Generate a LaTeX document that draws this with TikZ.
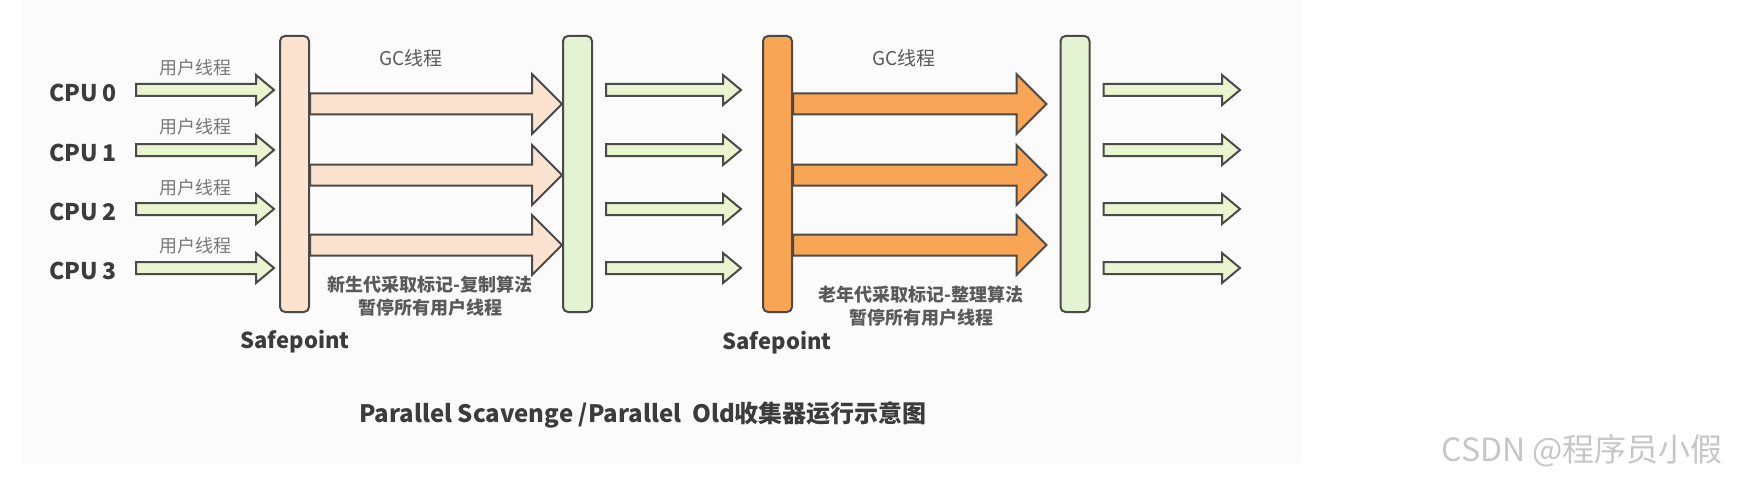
\documentclass[tikz,border=0pt]{standalone}
\usepackage{fontspec}
\setmainfont{Noto Sans CJK SC}
\usetikzlibrary{calc}
\definecolor{peach}{HTML}{FCE3CF}
\definecolor{lgreen}{HTML}{E4F4D2}
\definecolor{agreen}{HTML}{EAF5D0}
\definecolor{orng}{HTML}{F8A655}
\definecolor{edge}{HTML}{4A4A4A}
\definecolor{bgc}{HTML}{FBFBFC}
\definecolor{txtdark}{HTML}{3C3C3C}
\definecolor{txtmid}{HTML}{5A5A5A}
\definecolor{txtlight}{HTML}{787878}
\definecolor{wmark}{HTML}{C6C6C6}
% #1 from, #2 to, #3 shaft half width, #4 head half width, #5 head length, #6 style
\newcommand{\blockarrow}[6]{%
  \draw[#6] let \p1=(#1), \p2=(#2) in
    (\x1,\y1+#3) -- (\x2-#5,\y1+#3) -- (\x2-#5,\y1+#4) -- (\x2,\y1)
    -- (\x2-#5,\y1-#4) -- (\x2-#5,\y1-#3) -- (\x1,\y1-#3) -- cycle;}
\begin{document}
\begin{tikzpicture}[x=0.5pt,y=-0.5pt,
  bar/.style={draw=edge, line width=1pt, rounded corners=2.5pt,
    minimum width=14.5pt, minimum height=138pt, inner sep=0pt},
  arr/.style={draw=edge, line width=1pt, line join=miter},
  cpulbl/.style={font=\bfseries\fontsize{11.5}{13}\selectfont, text=txtdark},
  ulbl/.style={font=\fontsize{9}{11}\selectfont, text=txtlight},
  gclbl/.style={font=\fontsize{9.5}{11}\selectfont, text=txtmid},
  desc/.style={font=\bfseries\fontsize{9}{11.5}\selectfont, text=txtmid, align=center},
  splbl/.style={font=\bfseries\fontsize{11}{13}\selectfont, text=txtdark},
  title/.style={font=\bfseries\fontsize{12}{14}\selectfont, text=txtdark},
  wm/.style={font=\fontsize{16}{18}\selectfont, text=wmark}
]
\useasboundingbox (0,0) rectangle (1738,481);
\fill[bgc] (22,0) rectangle (1302,463);

% bars
\node[bar, fill=peach]  (sp1) at (294.5,174) {};
\node[bar, fill=lgreen] (gb2) at (577.5,174) {};
\node[bar, fill=orng]   (sp2) at (777.5,174) {};
\node[bar, fill=lgreen] (gb3) at (1075,174) {};

% CPU rows
\foreach \i/\yy/\ly in {0/90/68, 1/150/127, 2/209/188, 3/268/246} {
  \node[cpulbl] (cpu\i) at (83,\yy+3) {CPU \i};
  \node[ulbl] (usr\i) at (195,\ly) {用户线程};
  \coordinate (us\i) at (136,\yy);
  \coordinate (ut\i) at ($(sp1.west |- us\i)+(-5,0)$);
  \blockarrow{us\i}{ut\i}{3pt}{7.5pt}{9pt}{arr, fill=agreen}
  % middle arrows
  \coordinate (ms\i) at ($(gb2.east |- us\i)+(13,0)$);
  \coordinate (mt\i) at ($(sp2.west |- us\i)+(-21,0)$);
  \blockarrow{ms\i}{mt\i}{3pt}{7.5pt}{9pt}{arr, fill=agreen}
  % right arrows
  \coordinate (rs\i) at ($(gb3.east |- us\i)+(13,0)$);
  \coordinate (rt\i) at (1240,\yy);
  \blockarrow{rs\i}{rt\i}{3pt}{7.5pt}{9pt}{arr, fill=agreen}
}

% GC arrows
\foreach \j/\gy in {1/104, 2/175, 3/245} {
  \coordinate (ga\j) at (sp1.east |- 0,\gy);
  \coordinate (gt\j) at (gb2.west |- 0,\gy);
  \blockarrow{ga\j}{gt\j}{5.25pt}{15pt}{15pt}{arr, fill=peach}
  \coordinate (oa\j) at (sp2.east |- 0,\gy);
  \coordinate (ot\j) at ($(gb3.west |- 0,\gy)+(-13,0)$);
  \blockarrow{oa\j}{ot\j}{5.25pt}{15pt}{15pt}{arr, fill=orng}
}

% labels
\node[gclbl] (gc1) at (411,58) {GC线程};
\node[gclbl] (gc2) at (904,58) {GC线程};
\node[desc] (d1) at (430,296) {新生代采取标记-复制算法\\暂停所有用户线程};
\node[desc] (d2) at (921,306) {老年代采取标记-整理算法\\暂停所有用户线程};
\node[splbl] (sf1) at (295,342) {Safepoint};
\node[splbl] (sf2) at (777,343) {Safepoint};
\node[title] (ttl) at (643,415) {Parallel Scavenge /Parallel\ \ Old收集器运行示意图};
\node[wm] (wmk) at (1582,451) {CSDN @程序员小假};
\end{tikzpicture}
\end{document}
